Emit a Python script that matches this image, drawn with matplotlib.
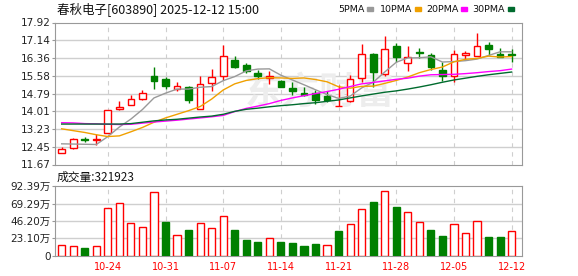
import matplotlib
matplotlib.use('Agg')
import matplotlib.pyplot as plt
import numpy as np

# ---- data ----
dates = ['10-20', '10-21', '10-22', '10-23', '10-24',
         '10-27', '10-28', '10-29', '10-30', '10-31',
         '11-03', '11-04', '11-05', '11-06', '11-07',
         '11-10', '11-11', '11-12', '11-13', '11-14',
         '11-17', '11-18', '11-19', '11-20', '11-21',
         '11-24', '11-25', '11-26', '11-27', '11-28',
         '12-01', '12-02', '12-03', '12-04', '12-05',
         '12-08', '12-09', '12-10', '12-11', '12-12']
label_dates = ['10-24', '10-31', '11-07', '11-14', '11-21', '11-28', '12-05', '12-12']

opens = [12.18, 12.40, 12.80, 12.76, 13.07, 14.12, 14.27, 14.56, 15.57, 15.43,
         15.00, 15.08, 14.13, 15.24, 15.55, 16.25, 16.07, 15.71, 15.48, 15.35,
         15.04, 14.83, 14.83, 14.69, 14.23, 14.47, 15.47, 16.54, 15.64, 16.90,
         16.13, 16.60, 16.50, 15.83, 15.58, 16.51, 16.44, 16.91, 16.54, 16.53]
closes = [12.36, 12.80, 12.73, 12.78, 14.09, 14.22, 14.55, 14.81, 15.35, 15.14,
          15.12, 14.52, 15.21, 15.51, 16.46, 15.98, 15.80, 15.58, 15.57, 15.09,
          14.90, 14.74, 14.50, 14.50, 14.24, 15.42, 16.54, 15.73, 16.75, 16.40,
          16.40, 16.57, 15.94, 15.57, 16.54, 16.59, 16.90, 16.75, 16.38, 16.51]
highs = [12.43, 12.85, 12.90, 13.02, 14.09, 14.46, 14.72, 14.95, 15.98, 15.54,
         15.30, 15.12, 15.57, 15.86, 16.94, 16.46, 16.13, 15.83, 15.80, 15.39,
         15.29, 15.07, 14.95, 14.90, 15.17, 15.61, 16.99, 16.57, 17.31, 17.02,
         16.87, 16.80, 16.57, 16.18, 16.72, 16.65, 17.46, 17.06, 16.80, 16.77]
lows = [12.18, 12.36, 12.65, 12.51, 13.07, 14.06, 14.27, 14.53, 14.98, 14.99,
        14.90, 14.36, 14.13, 14.90, 15.39, 15.91, 15.71, 15.43, 15.21, 15.08,
        14.72, 14.69, 14.32, 14.43, 14.23, 14.40, 15.31, 15.09, 15.58, 16.20,
        15.80, 16.35, 15.83, 15.35, 15.29, 16.28, 16.44, 16.50, 16.38, 16.17]

ma5 = [12.58, 12.57, 12.56, 12.55, 12.90, 13.32, 13.67, 14.09, 14.60, 14.81,
       14.99, 14.99, 15.07, 15.10, 15.36, 15.54, 15.79, 15.87, 15.88, 15.60,
       15.39, 15.18, 14.96, 14.75, 14.58, 14.68, 15.04, 15.29, 15.74, 16.17,
       16.36, 16.37, 16.41, 16.18, 16.20, 16.24, 16.31, 16.47, 16.63, 16.63]
ma10 = [13.24, 13.16, 13.08, 12.98, 12.90, 12.93, 13.11, 13.30, 13.53, 13.72,
        13.88, 14.04, 14.22, 14.55, 14.95, 15.22, 15.37, 15.45, 15.49, 15.48,
        15.46, 15.48, 15.41, 15.31, 15.09, 15.03, 15.11, 15.12, 15.24, 15.37,
        15.52, 15.71, 15.85, 15.96, 16.19, 16.30, 16.34, 16.44, 16.40, 16.42]
ma20 = [13.51, 13.50, 13.47, 13.46, 13.44, 13.43, 13.44, 13.49, 13.54, 13.58,
        13.62, 13.67, 13.72, 13.77, 13.83, 14.00, 14.14, 14.24, 14.35, 14.49,
        14.60, 14.70, 14.79, 14.88, 14.98, 15.10, 15.22, 15.28, 15.35, 15.42,
        15.47, 15.56, 15.62, 15.63, 15.64, 15.67, 15.71, 15.76, 15.80, 15.87]
ma30 = [13.45, 13.45, 13.45, 13.45, 13.45, 13.45, 13.47, 13.53, 13.59, 13.63,
        13.66, 13.71, 13.76, 13.80, 13.88, 14.01, 14.10, 14.15, 14.21, 14.26,
        14.30, 14.35, 14.39, 14.45, 14.51, 14.60, 14.69, 14.77, 14.85, 14.91,
        14.99, 15.08, 15.18, 15.29, 15.39, 15.47, 15.55, 15.62, 15.68, 15.74]

# volume in 10k shares (万), 1 = red (up) bar, 0 = green bar
volume = [14.0, 12.7, 10.4, 12.7, 63.0, 70.1, 43.4, 38.1, 84.8, 44.7,
          27.4, 34.0, 43.4, 36.7, 52.7, 34.0, 20.7, 18.4, 23.4, 18.4,
          17.1, 13.1, 15.4, 14.0, 33.1, 42.1, 62.1, 71.4, 86.1, 64.8,
          58.1, 44.7, 34.0, 26.0, 42.1, 30.0, 46.1, 24.7, 24.7, 32.19]
volume_up = [1, 1, 0, 1, 1, 1, 1, 1, 1, 0,
             1, 0, 1, 1, 1, 0, 0, 0, 1, 0,
             0, 0, 0, 1, 0, 1, 1, 0, 1, 0,
             1, 1, 0, 0, 1, 1, 1, 0, 0, 1]

price_ticks = [11.67, 12.45, 13.23, 14.01, 14.79, 15.58, 16.36, 17.14, 17.92]
price_labels = ['11.67', '12.45', '13.23', '14.01', '14.79', '15.58', '16.36', '17.14', '17.92']
volume_ticks = [0, 23.10, 46.20, 69.29, 92.39]
volume_labels = ['0', '23.10万', '46.20万', '69.29万', '92.39万']

title = '春秋电子[603890] 2025-12-12 15:00'
volume_title = '成交量:321923'
ma_names = ['5PMA', '10PMA', '20PMA', '30PMA']
ma_colors = ['#999999', '#f0a000', '#ff00ff', '#006b2e']

red = '#ff0000'
green = '#008000'
grid_color = '#cfcfcf'
spine_color = '#999999'

plt.rcParams['font.family'] = ['DejaVu Sans', 'Noto Sans CJK SC']

W, H = 578, 276
fig = plt.figure(figsize=(W / 100, H / 100), dpi=100)
ax = fig.add_axes([55 / W, 1 - 164.5 / H, 467 / W, 142 / H])
axv = fig.add_axes([55 / W, 1 - 255.5 / H, 467 / W, 69.2 / H])

x = np.arange(len(dates))
o = np.array(opens)
c = np.array(closes)
up = c >= o
xlim = (-0.58, 39.9)
tick_pos = [dates.index(d) for d in label_dates]

# ---- price panel ----
ax.set_xlim(*xlim)
ax.set_ylim(price_ticks[0], price_ticks[-1])
for t in price_ticks[1:-1]:
    ax.axhline(t, color=grid_color, lw=1, zorder=0)
for p in tick_pos:
    ax.axvline(p, color=grid_color, lw=0.8, dashes=(4, 4), zorder=0)

# faint watermark, behind the candles
ax.text(320 / W, 1 - 93 / H, '东方财富', transform=fig.transFigure, color='#ededed',
        fontsize=27, fontweight='bold', family=['Noto Sans CJK SC'],
        ha='center', va='center', zorder=1)

for i in x:
    col = red if up[i] else green
    ax.vlines(i, lows[i], highs[i], color=col, lw=1.0, zorder=2)
body_h = np.maximum(np.abs(c - o), 0.012)
body_b = np.minimum(o, c)
ax.bar(x[up], body_h[up], bottom=body_b[up], width=0.58, facecolor='white',
       edgecolor=red, lw=1.0, zorder=3)
ax.bar(x[~up], body_h[~up], bottom=body_b[~up], width=0.58, facecolor=green,
       edgecolor=green, lw=1.0, zorder=3)

for vals, col in zip([ma5, ma10, ma20, ma30], ma_colors):
    ax.plot(x, vals, color=col, lw=1.0, zorder=4)

ax.set_yticks(price_ticks)
ax.set_yticklabels(price_labels)
ax.set_xticks([])
ax.tick_params(axis='y', length=2, color=spine_color, labelsize=7.5,
               labelcolor='#222222', pad=1)
for s in ax.spines.values():
    s.set_color(spine_color)

fig.text(57 / W, 1 - 9 / H, title, fontsize=9, family=['Noto Sans CJK SC'],
         va='center', ha='left', color='#111111')
legend_x = [338, 380, 426, 472]
for name, col, lx in zip(ma_names, ma_colors, legend_x):
    t = fig.text(lx / W, 1 - 9 / H, name, fontsize=6.8, va='center', ha='left',
                 color='#111111')
    fig.canvas.draw()
    bb = t.get_window_extent()
    fig.patches.append(plt.Rectangle((bb.x1 / W + 3 / W, 1 - 10.5 / H), 6 / W, 3 / H,
                                     transform=fig.transFigure, color=col, figure=fig))

# ---- volume panel ----
vol = np.array(volume)
vup = np.array(volume_up) == 1
axv.set_xlim(*xlim)
axv.set_ylim(0, volume_ticks[-1])
for t in volume_ticks[1:-1]:
    axv.axhline(t, color=grid_color, lw=1, zorder=0)
for p in tick_pos:
    axv.axvline(p, color=grid_color, lw=0.8, dashes=(4, 4), zorder=0)
axv.bar(x[vup], vol[vup], width=0.62, facecolor='white', edgecolor=red, lw=1.0, zorder=3)
axv.bar(x[~vup], vol[~vup], width=0.62, facecolor=green, edgecolor=green, lw=1.0, zorder=3)
axv.set_yticks(volume_ticks)
axv.set_yticklabels(volume_labels)
axv.set_xticks(tick_pos)
axv.set_xticklabels(label_dates)
axv.tick_params(axis='y', length=2, color=spine_color, labelsize=7.5,
                labelcolor='#222222', pad=1)
axv.tick_params(axis='x', length=0, labelsize=7, labelcolor=red, pad=5)
for s in axv.spines.values():
    s.set_color(spine_color)

fig.text(57 / W, 1 - 177 / H, volume_title, fontsize=8.5, family=['Noto Sans CJK SC'],
         va='center', ha='left', color='#111111')

fig.savefig('out.png', dpi=100)
